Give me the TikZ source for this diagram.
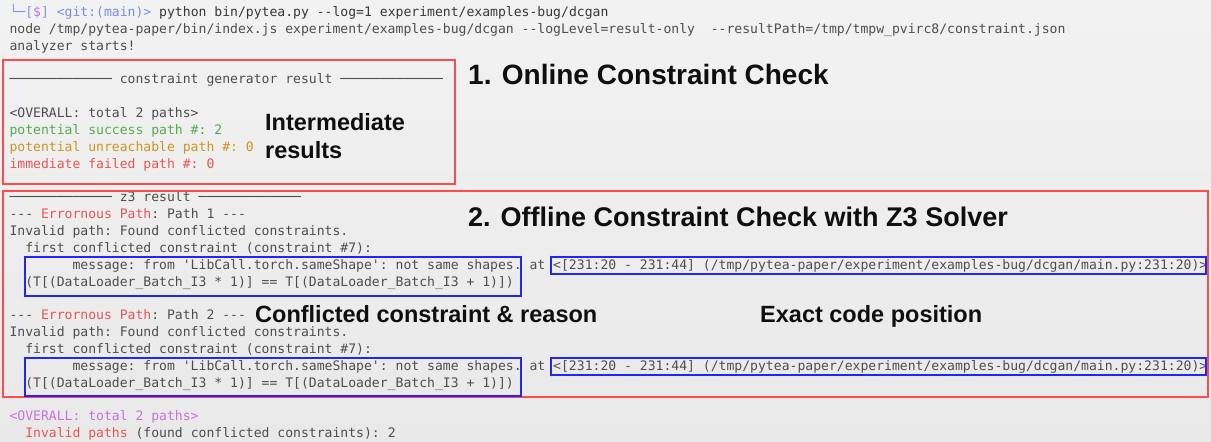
\documentclass[tikz,border=0pt]{standalone}
\usepackage{fontspec}
\setmonofont{DejaVu Sans Mono}
\setsansfont{Liberation Sans}

\definecolor{bgtop}{RGB}{242,242,242}
\definecolor{bgbot}{RGB}{233,233,233}
\definecolor{termgray}{RGB}{78,78,78}
\definecolor{cmdgray}{RGB}{55,55,55}
\definecolor{promptc}{RGB}{125,155,215}
\definecolor{dollarc}{RGB}{190,120,225}
\definecolor{gitc}{RGB}{120,140,235}
\definecolor{okgreen}{RGB}{85,170,80}
\definecolor{warnorange}{RGB}{205,150,35}
\definecolor{errred}{RGB}{230,85,85}
\definecolor{sumpurple}{RGB}{200,115,220}
\definecolor{boxred}{RGB}{255,75,75}
\definecolor{boxblue}{RGB}{35,35,250}
\definecolor{headc}{RGB}{15,15,15}

\begin{document}
\begin{tikzpicture}[x=1pt,y=-1pt,
  term/.style={anchor=base west, inner sep=0pt, outer sep=0pt, text=termgray,
    font=\ttfamily\fontsize{13.09}{16.85}\selectfont},
  headline/.style={anchor=base west, inner sep=0pt, text=headc,
    font=\sffamily\bfseries\fontsize{27.5}{32}\selectfont},
  note/.style={anchor=base west, inner sep=0pt, text=headc,
    font=\sffamily\bfseries\fontsize{23.5}{28}\selectfont},
  redbox/.style={draw=boxred, line width=2pt},
  bluebox/.style={draw=boxblue, line width=1.3pt}]

% canvas
\useasboundingbox (0,0) rectangle (1211,442);
\shade[top color=bgtop, bottom color=bgbot] (0,0) rectangle (1211,442);

% terminal columns and rows: x = 9.5 + 7.88*col, y = 16.5 + 16.85*row
% command prompt
\node[term] (cmd) at (9.5,16.5) {\textcolor{promptc}{└─[}\textcolor{dollarc}{\$}\textcolor{promptc}{]} \textcolor{gitc}{<git:(main)>} \textcolor{cmdgray}{python bin/pytea.py --log=1 experiment/examples-bug/dcgan}};
\node[term] (nodecmd) at (9.5,{16.5+16.85*1}) {node /tmp/pytea-paper/bin/index.js experiment/examples-bug/dcgan --logLevel=result-only\ \ --resultPath=/tmp/tmpw\_pvirc8/constraint.json};
\node[term] (start) at (9.5,{16.5+16.85*2}) {analyzer starts!};

% constraint generator output
\node[term] (genhead) at (9.5,{16.5+16.85*4}) {───────────── constraint generator result ─────────────};
\node[term] (overall1) at (9.5,{16.5+16.85*6}) {<OVERALL: total 2 paths>};
\node[term, text=okgreen] (success) at (9.5,{16.5+16.85*7}) {potential success path \#: 2};
\node[term, text=warnorange] (unreach) at (9.5,{16.5+16.85*8}) {potential unreachable path \#: 0};
\node[term, text=errred] (failed) at (9.5,{16.5+16.85*9}) {immediate failed path \#: 0};

% z3 output
\node[term] (z3head) at (9.5,{16.5+16.85*11}) {───────────── z3 result ─────────────};

\node[term] (p1title) at (9.5,{16.5+16.85*12}) {--- \textcolor{errred}{Errornous Path}: Path 1 ---};
\node[term] (p1inv) at (9.5,{16.5+16.85*13}) {Invalid path: Found conflicted constraints.};
\node[term] (p1first) at ({9.5+7.88*2},{16.5+16.85*14}) {first conflicted constraint (constraint \#7):};
\node[term] (p1msg) at ({9.5+7.88*8},{16.5+16.85*15}) {message: from 'LibCall.torch.sameShape': not same shapes. at <[231:20 - 231:44] (/tmp/pytea-paper/experiment/examples-bug/dcgan/main.py:231:20)>};
\node[term] (p1eq) at ({9.5+7.88*2},{16.5+16.85*16}) {(T[(DataLoader\_Batch\_I3 * 1)] == T[(DataLoader\_Batch\_I3 + 1)])};

\node[term] (p2title) at (9.5,{16.5+16.85*18}) {--- \textcolor{errred}{Errornous Path}: Path 2 ---};
\node[term] (p2inv) at (9.5,{16.5+16.85*19}) {Invalid path: Found conflicted constraints.};
\node[term] (p2first) at ({9.5+7.88*2},{16.5+16.85*20}) {first conflicted constraint (constraint \#7):};
\node[term] (p2msg) at ({9.5+7.88*8},{16.5+16.85*21}) {message: from 'LibCall.torch.sameShape': not same shapes. at <[231:20 - 231:44] (/tmp/pytea-paper/experiment/examples-bug/dcgan/main.py:231:20)>};
\node[term] (p2eq) at ({9.5+7.88*2},{16.5+16.85*22}) {(T[(DataLoader\_Batch\_I3 * 1)] == T[(DataLoader\_Batch\_I3 + 1)])};

% summary
\node[term, text=sumpurple] (overall2) at (9.5,{16.5+16.85*24}) {<OVERALL: total 2 paths>};
\node[term] (invsum) at ({9.5+7.88*2},{16.5+16.85*25}) {\textcolor{errred}{Invalid paths} (found conflicted constraints): 2};

% highlight frames
\draw[redbox] (3,60) rectangle (455,184);
\draw[redbox] (3,191) rectangle (1208,397);
\draw[bluebox] (25,257) rectangle (521,296);
\draw[bluebox] (551,257) rectangle (1206,274);
\draw[bluebox] (25,358) rectangle (521,396);
\draw[bluebox] (551,358) rectangle (1206,375);

% annotations
\node[headline, font=\sffamily\bfseries\fontsize{28}{32}\selectfont] (online) at (468,84) {1. Online Constraint Check};
\node[headline, font=\sffamily\bfseries\fontsize{27}{32}\selectfont] (offline) at (468,226) {2. Offline Constraint Check with Z3 Solver};
\node[note] (interA) at (265,130) {Intermediate};
\node[note] (interB) at (265,158) {results};
\node[note] (reason) at (255,322) {Conflicted constraint \& reason};
\node[note] (position) at (760,322) {Exact code position};
\end{tikzpicture}
\end{document}
